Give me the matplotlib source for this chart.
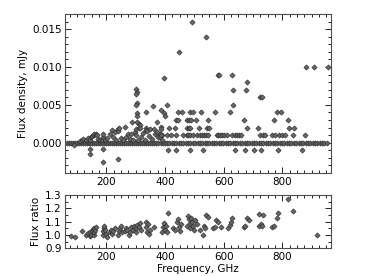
import numpy as np
import matplotlib
matplotlib.use('Agg')
import matplotlib.pyplot as plt
from matplotlib.ticker import MultipleLocator

# frequencies of the points that sit on the zero line
zero_freq = [66, 74, 80, 87, 93, 100, 106, 113, 120, 126, 133, 140, 146, 152,
             159, 166, 172, 179, 186, 192, 199, 206, 213, 220, 226, 233, 240,
             247, 254, 260, 267, 274, 281, 288, 294, 301, 308, 315, 322, 329,
             336, 343, 350, 357, 364, 371, 378, 385, 392, 399, 407, 415, 423,
             431, 439, 447, 455, 463, 471, 479, 487, 495, 503, 511, 519, 527,
             535, 543, 551, 559, 567, 575, 583, 591, 599, 607, 615, 623, 631,
             639, 647, 655, 663, 671, 679, 687, 695, 703, 711, 719, 727, 735,
             743, 751, 759, 767, 775, 783, 791, 799, 807, 815, 823, 831, 839,
             847, 855, 863, 871, 879, 887, 895, 903, 911, 919, 927, 935, 943, 951]

# the rest of the flux densities (mJy)
flux_freq = [493, 540, 447, 398, 579, 585, 630, 631, 681, 677, 724, 732, 882, 909, 956,
             360, 408, 632,
             303, 304, 303, 305, 303, 305, 304, 304,
             337, 386, 397, 400, 372,
             445, 457, 485, 495, 522, 571, 622, 780, 794,
             438, 443, 476, 482, 488, 506, 547, 668, 773, 818,
             413, 434, 476, 481, 486, 515, 543, 551, 680, 718, 824, 839,
             389, 406, 420, 437, 463, 474, 480, 486, 497, 508, 520, 526, 533, 541, 545,
             577, 582, 588, 595, 600, 611, 628, 637, 645, 651, 659, 725, 733, 740,
             765, 776, 788, 799, 808, 837, 876,
             409, 437, 485, 531, 639, 673, 705, 727, 784, 867,
             144, 144, 189, 189, 240, 89,
             110, 118, 121, 130, 138, 145, 149, 153, 157, 160, 164, 168, 172, 178,
             185, 189, 189, 196, 203, 212, 218, 222, 229, 234, 240, 240, 244, 250,
             256, 263, 268, 274, 280, 286, 288, 291, 297, 303, 303, 308, 312, 312,
             314, 314, 320, 326, 332, 337, 337, 340, 345, 349, 355, 363, 365, 372,
             377, 383, 383, 386, 386, 386, 390]
flux = [0.016, 0.014, 0.012, 0.0086, 0.009, 0.009, 0.009, 0.007, 0.008, 0.007, 0.006, 0.006, 0.010, 0.010, 0.010,
        0.0049, 0.005, 0.005,
        0.0071, 0.0067, 0.0064, 0.0052, 0.0050, 0.0039, 0.0036, 0.0027,
        0.0041, 0.0043, 0.0039, 0.0036, 0.0027,
        0.004, 0.004, 0.004, 0.004, 0.004, 0.004, 0.004, 0.004, 0.004,
        0.003, 0.003, 0.003, 0.003, 0.003, 0.003, 0.003, 0.003, 0.003, 0.003,
        0.002, 0.002, 0.002, 0.002, 0.002, 0.002, 0.002, 0.002, 0.002, 0.002, 0.002, 0.002,
        0.001, 0.001, 0.001, 0.001, 0.001, 0.001, 0.001, 0.001, 0.001, 0.001, 0.001, 0.001, 0.001, 0.001, 0.001,
        0.001, 0.001, 0.001, 0.001, 0.001, 0.001, 0.001, 0.001, 0.001, 0.001, 0.001, 0.001, 0.001, 0.001,
        0.001, 0.001, 0.001, 0.001, 0.001, 0.001, 0.001,
        -0.001, -0.001, -0.001, -0.001, -0.001, -0.001, -0.001, -0.001, -0.001, -0.001,
        -0.0008, -0.0015, -0.0008, -0.0026, -0.0021, -0.0003,
        0.0002, 0.0004, 0.0005, 0.0003, 0.0006, 0.0003, 0.0007, 0.0009, 0.0010, 0.0011, 0.0012, 0.0010, 0.0005, 0.0004,
        0.0003, 0.0007, 0.0012, 0.0004, 0.0006, 0.0011, 0.0017, 0.0008, 0.0014, 0.0004, 0.0018, 0.0015, 0.0019, 0.0006,
        0.0003, 0.0021, 0.0008, 0.0011, 0.0005, 0.0012, 0.0027, 0.0003, 0.0014, 0.0010, 0.0018, 0.0004, 0.0025, 0.0019,
        0.0023, 0.0019, 0.0007, 0.0013, 0.0004, 0.0019, 0.0017, 0.0016, 0.0009, 0.0018, 0.0005, 0.0018, 0.0011, 0.0014,
        0.0007, 0.0012, 0.0008, 0.0010, 0.0021, 0.0018, 0.0003]

# flux ratio panel
ratio_freq = [81, 95, 119, 130, 138, 144, 146, 149, 152, 155, 157, 158, 160, 163, 166,
              189, 190, 192, 194, 196, 199, 201, 212, 216, 220, 224, 229,
              240, 243, 246, 249, 252, 263, 267, 272, 278, 281, 286,
              290, 295, 300, 303, 306, 310, 314, 320,
              335, 337, 340, 343, 346, 349, 362,
              390, 393, 396, 400, 403, 406, 411,
              428, 433, 440, 445, 448, 452, 456,
              474, 478, 481, 484, 487, 490, 493, 496, 499, 503, 509,
              520, 531, 533, 537, 540, 548,
              565, 570, 575, 580, 592, 616, 622, 626, 630,
              669, 674, 680, 686, 719, 722, 727, 731, 734,
              765, 771, 780, 785, 820, 835, 919]
ratio = [0.99, 0.985, 1.03, 1.0, 1.015, 0.99, 1.02, 1.0, 1.03, 1.045, 1.0, 1.02, 1.055, 1.035, 1.06,
         1.0, 1.03, 1.05, 1.065, 1.04, 1.01, 0.985, 1.02, 1.04, 1.01, 1.03, 1.05,
         1.0, 1.03, 1.05, 1.07, 1.02, 1.03, 1.05, 1.04, 1.0, 1.02, 1.06,
         1.04, 1.07, 1.02, 1.05, 1.075, 1.06, 1.09, 1.04,
         1.1, 1.06, 1.02, 1.08, 1.01, 1.04, 1.06,
         1.02, 1.06, 1.09, 1.04, 1.07, 1.02, 1.164,
         1.05, 1.04, 1.1, 1.12, 1.06, 1.03, 1.08,
         1.07, 1.14, 1.12, 1.09, 1.05, 1.13, 1.1, 1.07, 1.035, 1.11, 1.08,
         1.04, 1.0, 1.07, 1.053, 1.15, 1.137,
         1.05, 1.058, 1.11, 1.095, 1.058, 1.05, 1.075, 1.095, 1.127,
         1.058, 1.065, 1.13, 1.11, 1.07, 1.157, 1.083, 1.065, 1.15,
         1.058, 1.07, 1.13, 1.164, 1.27, 1.177, 1.0]

plt.rcParams['font.size'] = 7.5
plt.rcParams['xtick.direction'] = 'in'
plt.rcParams['ytick.direction'] = 'in'

fig = plt.figure(figsize=(3.68, 2.76), dpi=100)
ax1 = fig.add_axes([0.177, 0.373, 0.722, 0.576])
ax2 = fig.add_axes([0.177, 0.101, 0.722, 0.192])

style = dict(ls='none', marker='D', ms=2.7, mfc='0.4', mec='0.15', mew=0.4)

ax1.plot(zero_freq, np.zeros(len(zero_freq)), **style)
ax1.plot(flux_freq, flux, **style)
ax1.set_ylim(-0.004, 0.017)
ax1.set_ylabel('Flux density, mJy', labelpad=3)
ax1.yaxis.set_major_locator(MultipleLocator(0.005))
ax1.yaxis.set_minor_locator(MultipleLocator(0.001))

ax2.plot(ratio_freq, ratio, **style)
ax2.set_ylim(0.9, 1.3)
ax2.set_ylabel('Flux ratio', labelpad=3)
ax2.set_xlabel('Frequency, GHz', labelpad=2)
ax2.yaxis.set_major_locator(MultipleLocator(0.1))
ax2.yaxis.set_minor_locator(MultipleLocator(0.05))

for ax in (ax1, ax2):
    ax.set_xlim(60, 965)
    ax.xaxis.set_major_locator(MultipleLocator(200))
    ax.xaxis.set_minor_locator(MultipleLocator(25))
    ax.tick_params(which='both', top=True, right=True, width=0.6, pad=2.5)
    ax.tick_params(which='major', length=4)
    ax.tick_params(which='minor', length=2)
    for s in ax.spines.values():
        s.set_linewidth(0.8)
        s.set_color('0.3')

fig.savefig('out.png', dpi=100)
